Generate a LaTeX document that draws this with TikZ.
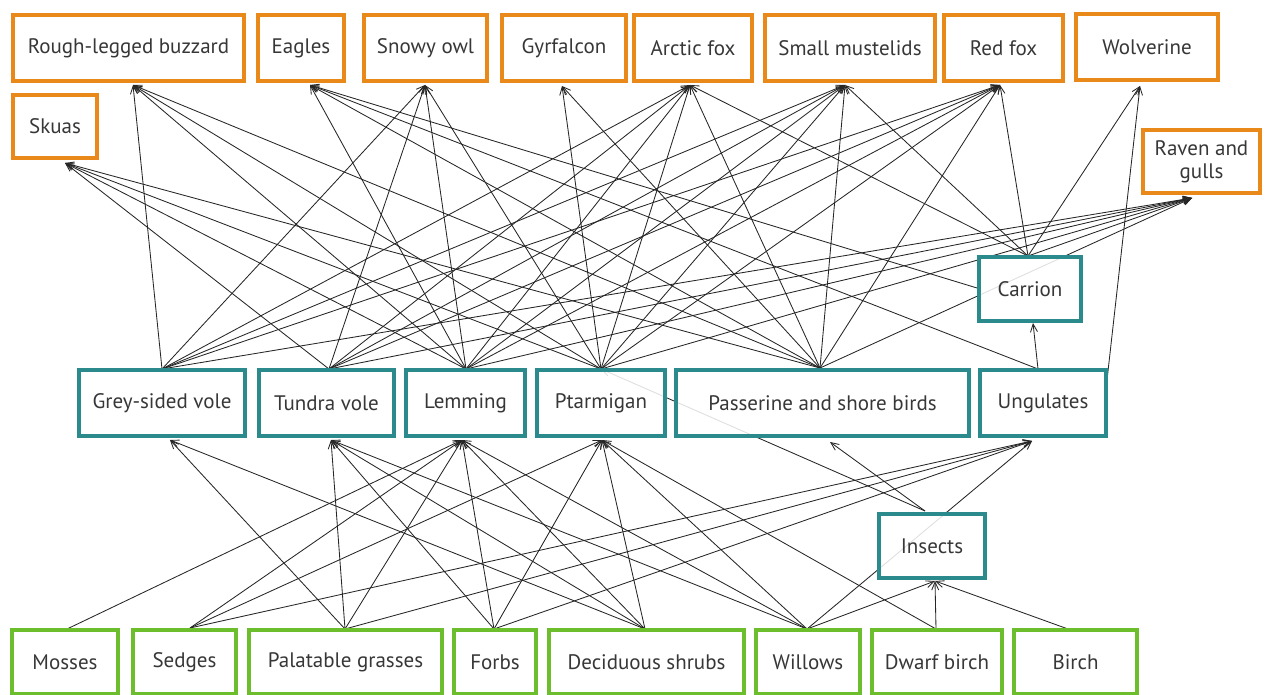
\documentclass[tikz,border=0pt]{standalone}
\usepackage{fontspec}
\setmainfont{PT Sans}
\usetikzlibrary{arrows.meta}
\definecolor{orng}{RGB}{232,137,26}
\definecolor{tealb}{RGB}{42,138,140}
\definecolor{grn}{RGB}{108,190,45}
\definecolor{txt}{RGB}{55,55,55}
\pgfdeclarelayer{bg}
\pgfsetlayers{bg,main}
\begin{document}
\begin{tikzpicture}[x=1pt,y=-1pt,
  box/.style={draw, line width=4pt, fill=white, fill opacity=0.85, text opacity=1,
    inner sep=0pt, font=\fontsize{21}{23}\selectfont, text=txt, align=center},
  pred/.style={box, draw=orng},
  herb/.style={box, draw=tealb},
  plant/.style={box, draw=grn},
  link/.style={-{Straight Barb[length=8pt,width=7pt]}, line width=0.85pt, draw=black!85},
]
\useasboundingbox (0,0) rectangle (1268,695);
% top predators
\node[pred, minimum width=231pt, minimum height=66pt] (rlb) at (128.5,48) {Rough-legged buzzard};
\node[pred, minimum width=86pt, minimum height=66pt] (eag) at (301,48) {Eagles};
\node[pred, minimum width=123pt, minimum height=66pt] (sno) at (425.5,48) {Snowy owl};
\node[pred, minimum width=124pt, minimum height=66pt] (gyr) at (564,48) {Gyrfalcon};
\node[pred, minimum width=118pt, minimum height=66pt] (af) at (693,48) {Arctic fox};
\node[pred, minimum width=170pt, minimum height=66pt] (sm) at (850,48) {Small mustelids};
\node[pred, minimum width=119pt, minimum height=66pt] (rf) at (1003.5,48) {Red fox};
\node[pred, minimum width=142pt, minimum height=66pt] (wol) at (1147,47) {Wolverine};
\node[pred, minimum width=84pt, minimum height=63pt] (sku) at (55,126.5) {Skuas};
\node[pred, minimum width=117pt, minimum height=63pt] (rav) at (1201.5,161.5) {Raven and\\gulls};
% herbivores
\node[herb, minimum width=166pt, minimum height=66pt] (gsv) at (162,403) {Grey-sided vole};
\node[herb, minimum width=135pt, minimum height=66pt] (tv) at (326.5,403) {Tundra vole};
\node[herb, minimum width=119pt, minimum height=66pt] (lem) at (465.5,403) {Lemming};
\node[herb, minimum width=128pt, minimum height=66pt] (pta) at (601,403) {Ptarmigan};
\node[herb, minimum width=293pt, minimum height=66pt] (ps) at (822.5,403) {Passerine and shore birds};
\node[herb, minimum width=126pt, minimum height=66pt] (ung) at (1043,403) {Ungulates};
\node[herb, minimum width=102pt, minimum height=64pt] (car) at (1030,289) {Carrion};
\node[herb, minimum width=106pt, minimum height=64pt] (ins) at (932,546) {Insects};
% plants
\node[plant, minimum width=106pt, minimum height=64pt] (mos) at (65,662) {Mosses};
\node[plant, minimum width=103pt, minimum height=64pt] (sed) at (184.5,662) {Sedges};
\node[plant, minimum width=193pt, minimum height=64pt] (pg) at (345.5,662) {Palatable grasses};
\node[plant, minimum width=82pt, minimum height=64pt] (for) at (495,662) {Forbs};
\node[plant, minimum width=195pt, minimum height=64pt] (ds) at (646.5,662) {Deciduous shrubs};
\node[plant, minimum width=104pt, minimum height=64pt] (wil) at (808,662) {Willows};
\node[plant, minimum width=130pt, minimum height=64pt] (db) at (937,662) {Dwarf birch};
\node[plant, minimum width=123pt, minimum height=64pt] (bir) at (1075.5,662) {Birch};
% ports
\coordinate (rlbP) at (133,85);
\coordinate (eagP) at (310,85);
\coordinate (snoP) at (425,85);
\coordinate (gyrP) at (562,86);
\coordinate (afP) at (690,85);
\coordinate (smP) at (845,85);
\coordinate (rfP) at (1000,85);
\coordinate (wolP) at (1140,86);
\coordinate (skuP) at (65,163);
\coordinate (ravP) at (1192,198);
\coordinate (gsvT) at (162,369);
\coordinate (tvT) at (329,369);
\coordinate (lemT) at (466,369);
\coordinate (ptaT) at (601,369);
\coordinate (psT) at (820,368);
\coordinate (ungT) at (1038,369);
\coordinate (ungR) at (1107,380);
\coordinate (carT) at (1028,256);
\coordinate (carL) at (977,288);
\coordinate (carB) at (1033,323);
\coordinate (gsvB) at (170,440);
\coordinate (tvB) at (331,440);
\coordinate (lemB) at (462,440);
\coordinate (ptaB) at (602,440);
\coordinate (psB) at (830,442);
\coordinate (ungB) at (1032,441);
\coordinate (insB) at (935,581);
\coordinate (insT) at (925,511);
\coordinate (mosT) at (67,629);
\coordinate (sedT) at (190,628);
\coordinate (pgT) at (345,629);
\coordinate (forT) at (494,629);
\coordinate (dsT) at (645,629);
\coordinate (wilT) at (807,629);
\coordinate (dbT) at (936,629);
\coordinate (birT) at (1068,629);
\begin{pgfonlayer}{bg}
% upper web
\foreach \s in {gsvT,lemT,ptaT,psT} \draw[link] (\s) -- (rlbP);
\foreach \s in {tvT,lemT,ptaT,psT} \draw[link] (\s) -- (skuP);
\foreach \s in {lemT,psT,ungT,carL} \draw[link] (\s) -- (eagP);
\foreach \s in {gsvT,tvT,lemT,ptaT} \draw[link] (\s) -- (snoP);
\foreach \s in {ptaT,psT} \draw[link] (\s) -- (gyrP);
\foreach \s in {gsvT,tvT,lemT,ptaT,psT,carT} \draw[link] (\s) -- (afP);
\foreach \s in {gsvT,tvT,lemT,ptaT,psT,carT} \draw[link] (\s) -- (smP);
\foreach \s in {gsvT,tvT,lemT,ptaT,psT,carT} \draw[link] (\s) -- (rfP);
\foreach \s in {ungR,carT} \draw[link] (\s) -- (wolP);
\foreach \s in {gsvT,tvT,lemT,ptaT,psT,carT} \draw[link] (\s) -- (ravP);
\draw[link] (ungT) -- (carB);
\draw[link] (insT) -- (ptaT);
% lower web
\draw[link] (mosT) -- (lemB);
\foreach \s in {sedT,pgT,forT,dsT,wilT} \draw[link] (\s) -- (lemB);
\foreach \s in {pgT,dsT} \draw[link] (\s) -- (gsvB);
\foreach \s in {pgT,forT,dsT,wilT} \draw[link] (\s) -- (tvB);
\foreach \s in {sedT,forT,dsT,wilT,dbT} \draw[link] (\s) -- (ptaB);
\draw[link] (insT) -- (psB);
\foreach \s in {sedT,pgT,forT,wilT} \draw[link] (\s) -- (ungB);
\foreach \s in {wilT,dbT,birT} \draw[link] (\s) -- (insB);
\end{pgfonlayer}
\end{tikzpicture}
\end{document}
